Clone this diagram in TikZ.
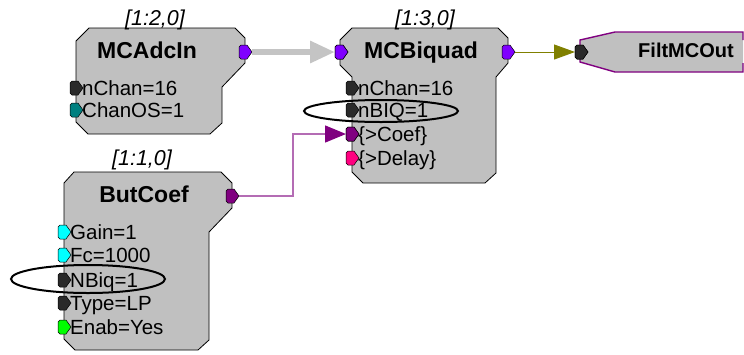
\documentclass[tikz,border=0pt]{standalone}
\usepackage{fontspec}
\setmainfont{Liberation Sans}
\usetikzlibrary{arrows.meta,shapes.geometric}
\definecolor{blockgray}{HTML}{C0C0C0}
\definecolor{pviolet}{HTML}{8000FF}
\definecolor{pdark}{HTML}{2A2A2A}
\definecolor{pteal}{HTML}{008080}
\definecolor{ppurple}{HTML}{800080}
\definecolor{ppink}{HTML}{FF0080}
\definecolor{pcyan}{HTML}{00FFFF}
\definecolor{pgreen}{HTML}{00FF00}
\definecolor{olivec}{HTML}{808000}
\definecolor{wirepurple}{HTML}{B46CB4}
\definecolor{arrowgray}{HTML}{C4C4C4}
\newcommand\mkport[3]{\coordinate (#1) at (#2); \pic at (#1) {port=#3};}
\begin{document}
\begin{tikzpicture}[x=1pt,y=-1pt,
  block/.style={fill=blockgray, draw=black, line width=0.8pt},
  title/.style={font=\fontsize{23}{26}\selectfont\bfseries, anchor=base, inner sep=0pt},
  hdr/.style={font=\fontsize{21.5}{24}\selectfont\itshape, anchor=base, inner sep=0pt},
  plabel/.style={font=\fontsize{20.5}{23}\selectfont, anchor=base west, inner sep=0pt},
  ring/.style={ellipse, draw=black, line width=2pt, inner sep=0pt},
  pics/port/.style={code={\path[fill=#1, draw=black, line width=0.5pt] (-6,-5)--(-4,-7)--(2,-7)--(7,0)--(2,7)--(-4,7)--(-6,5)--cycle;}}]
\useasboundingbox (0,0) rectangle (744,354);

% ---- MCAdcIn ----
\path[block] (89,28)--(235,28)--(245,38)--(245,63)--(222,87)--(222,123)--(210,134)--(88,134)--(76,122)--(76,41)--cycle;
\node[hdr] (hdrA) at (155,25) {[1:2,0]};
\node[title] (tA) at (147,58) {MCAdcIn};
\mkport{adcout}{245,52}{pviolet}
\mkport{adcnch}{76,88}{pdark}
\mkport{adcos}{76,110}{pteal}
\node[plabel] (lA1) at ([xshift=6pt,yshift=-7pt]adcnch) {nChan=16};
\node[plabel] (lA2) at ([xshift=6pt,yshift=-7pt]adcos) {ChanOS=1};

% ---- MCBiquad ----
\path[block] (352,28)--(498,28)--(508,38)--(508,63)--(496,77)--(496,173)--(485,183)--(363,183)--(352,172)--(352,77)--(340,65)--(340,40)--cycle;
\node[hdr] (hdrB) at (425,25) {[1:3,0]};
\node[title] (tB) at (421,58) {MCBiquad};
\mkport{biqin}{341,52}{pviolet}
\mkport{biqout}{508,52}{pviolet}
\mkport{biqnch}{352,88}{pdark}
\mkport{biqnbiq}{352,110}{pdark}
\mkport{biqcoef}{352,134}{ppurple}
\mkport{biqdel}{352,158}{ppink}
\node[plabel] (lB1) at ([xshift=6pt,yshift=-7pt]biqnch) {nChan=16};
\node[plabel] (lB2) at ([xshift=6pt,yshift=-7pt]biqnbiq) {nBIQ=1};
\node[plabel] (lB3) at ([xshift=6pt,yshift=-7pt]biqcoef) {\{>Coef\}};
\node[plabel] (lB4) at ([xshift=6pt,yshift=-7pt]biqdel) {\{>Delay\}};

% ---- ButCoef ----
\path[block] (74,172)--(221,172)--(232,183)--(232,208)--(209,232)--(209,340)--(198,350)--(75,350)--(64,339)--(64,183)--cycle;
\node[hdr] (hdrC) at (142,165) {[1:1,0]};
\node[title] (tC) at (144,202) {ButCoef};
\mkport{butout}{232,196}{ppurple}
\mkport{butgain}{64,232}{pcyan}
\mkport{butfc}{64,255}{pcyan}
\mkport{butnbiq}{64,280}{pdark}
\mkport{buttype}{64,303}{pdark}
\mkport{butenab}{64,327}{pgreen}
\node[plabel] (lC1) at ([xshift=6pt,yshift=-7pt]butgain) {Gain=1};
\node[plabel] (lC2) at ([xshift=6pt,yshift=-7pt]butfc) {Fc=1000};
\node[plabel] (lC3) at ([xshift=6pt,yshift=-7pt]butnbiq) {NBiq=1};
\node[plabel] (lC4) at ([xshift=6pt,yshift=-7pt]buttype) {Type=LP};
\node[plabel] (lC5) at ([xshift=6pt,yshift=-7pt]butenab) {Enab=Yes};

% ---- FiltMCOut ----
\fill[blockgray] (580,40)--(615,32)--(743,32)--(743,72)--(615,72)--(580,62)--cycle;
\draw[ppurple, line width=1.4pt] (743,40)--(743,32)--(615,32)--(580,40)--(580,62)--(615,72)--(743,72)--(743,63);
\node[font=\fontsize{20}{23}\selectfont\bfseries, anchor=base, inner sep=0pt] (tD) at (686,57) {FiltMCOut};
\mkport{filtin}{581,52}{pdark}

% ---- connectors ----
\draw[arrowgray, line width=6pt, shorten <=7pt, shorten >=6pt,
  -{Triangle[length=25pt,width=21pt]}] (adcout) -- (biqin);
\draw[olivec, line width=1pt, shorten <=7pt, shorten >=6pt,
  -{Triangle[length=21pt,width=15pt]}] (biqout) -- (filtin);
\coordinate (jog) at (293,134);
\draw[wirepurple, line width=1.5pt, shorten <=7pt, shorten >=6pt,
  -{Triangle[length=21pt,width=17pt,color=ppurple]}] (butout) -| (jog) -- (biqcoef);
% redraw port tips over arrows
\pic at (biqin) {port=pviolet};
\pic at (filtin) {port=pdark};
\pic at (biqcoef) {port=ppurple};

% ---- rings ----
\node[ring, minimum width=154pt, minimum height=22pt] (ringB) at (381,111) {};
\node[ring, minimum width=154pt, minimum height=28pt] (ringC) at (88,279) {};
\end{tikzpicture}
\end{document}
